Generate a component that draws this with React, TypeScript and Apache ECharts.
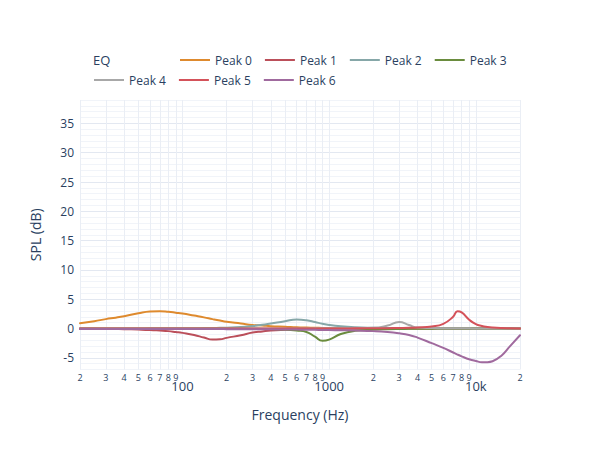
import React, { useEffect, useRef } from "react";
import * as echarts from "echarts";

// Frequencies (Hz) at which the curves were read
const FREQ = [20, 25, 30, 35, 40, 50, 60, 70, 80, 90, 100, 120, 140, 160, 180, 200, 250, 300, 350, 400, 500, 600, 700, 800, 900, 1000, 1200, 1500, 2000, 2500, 3000, 3500, 4000, 5000, 6000, 7000, 7500, 8000, 9000, 10000, 11000, 12000, 13000, 15000, 17000, 20000];

const PEAK_0 = [0.9, 1.25, 1.6, 1.85, 2.1, 2.6, 2.9, 2.95, 2.85, 2.7, 2.55, 2.2, 1.9, 1.6, 1.35, 1.15, 0.85, 0.6, 0.5, 0.4, 0.3, 0.2, 0.15, 0.12, 0.1, 0.08, 0.06, 0.04, 0.03, 0.02, 0.02, 0.01, 0.01, 0.01, 0, 0, 0, 0, 0, 0, 0, 0, 0, 0, 0, 0];
const PEAK_1 = [-0.05, -0.06, -0.08, -0.1, -0.12, -0.18, -0.25, -0.35, -0.45, -0.6, -0.75, -1.1, -1.55, -1.9, -1.85, -1.6, -1.15, -0.7, -0.5, -0.35, -0.22, -0.15, -0.1, -0.08, -0.06, -0.05, -0.04, -0.03, -0.02, -0.02, -0.01, -0.01, -0.01, 0, 0, 0, 0, 0, 0, 0, 0, 0, 0, 0, 0, 0];
const PEAK_2 = [0, 0, 0, 0, 0.01, 0.01, 0.02, 0.02, 0.03, 0.03, 0.04, 0.05, 0.07, 0.09, 0.11, 0.14, 0.25, 0.42, 0.62, 0.85, 1.25, 1.52, 1.4, 1.1, 0.8, 0.6, 0.38, 0.22, 0.12, 0.08, 0.05, 0.04, 0.03, 0.02, 0.01, 0, 0, 0, 0, 0, 0, 0, 0, 0, 0, 0];
const PEAK_3 = [0, 0, 0, 0, 0, 0, 0, 0, 0, 0, -0.01, -0.01, -0.01, -0.02, -0.02, -0.02, -0.04, -0.05, -0.07, -0.1, -0.18, -0.35, -0.6, -1.4, -2.1, -1.9, -0.95, -0.4, -0.2, -0.12, -0.08, -0.06, -0.05, -0.03, -0.02, -0.02, -0.01, -0.01, -0.01, 0, 0, 0, 0, 0, 0, 0];
const PEAK_4 = [0, 0, 0, 0, 0, 0, 0, 0, 0, 0, 0, 0, 0, 0, 0, 0, 0, 0, 0, 0, 0, 0.01, 0.01, 0.02, 0.02, 0.03, 0.04, 0.07, 0.12, 0.5, 1.12, 0.6, 0.15, 0.08, 0.05, 0.03, 0.03, 0.02, 0.02, 0.01, 0.01, 0, 0, 0, 0, 0];
const PEAK_5 = [0, 0, 0, 0, 0, 0, 0, 0, 0, 0, 0, 0, 0, 0, 0, 0, 0, 0, 0, 0, 0, 0, 0, 0, 0, 0, 0, 0.02, 0.04, 0.06, 0.09, 0.12, 0.17, 0.35, 0.8, 2.0, 2.95, 2.75, 1.5, 0.73, 0.42, 0.26, 0.17, 0.08, 0.04, 0.01];
const PEAK_6 = [-0.1, -0.1, -0.1, -0.1, -0.1, -0.1, -0.1, -0.1, -0.1, -0.1, -0.1, -0.1, -0.1, -0.1, -0.1, -0.11, -0.12, -0.13, -0.14, -0.15, -0.17, -0.19, -0.21, -0.23, -0.25, -0.27, -0.3, -0.35, -0.45, -0.6, -0.82, -1.1, -1.55, -2.5, -3.3, -4.1, -4.45, -4.75, -5.25, -5.55, -5.75, -5.75, -5.6, -4.6, -3.1, -1.15];

const SERIES_NAMES = ["Peak 0", "Peak 1", "Peak 2", "Peak 3", "Peak 4", "Peak 5", "Peak 6"];
const SERIES_VALUES = [PEAK_0, PEAK_1, PEAK_2, PEAK_3, PEAK_4, PEAK_5, PEAK_6];
const SERIES_COLORS = ["#de8a2e", "#bb4f5a", "#86a7a8", "#6a8c3e", "#a8a8a8", "#d4525a", "#a06a9e"];

// x-axis grid/tick positions and their labels
const X_TICKS = [20, 30, 40, 50, 60, 70, 80, 90, 100, 200, 300, 400, 500, 600, 700, 800, 900, 1000, 2000, 3000, 4000, 5000, 6000, 7000, 8000, 9000, 10000, 20000];
const X_TICK_LABELS = ["2", "3", "4", "5", "6", "7", "8", "9", "100", "2", "3", "4", "5", "6", "7", "8", "9", "1000", "2", "3", "4", "5", "6", "7", "8", "9", "10k", "2"];
const X_MAJOR = [100, 1000, 10000];

const Y_MIN = -7;
const Y_MAX = 39;

const TEXT = "#2a3f5f";
const FONT = "Open Sans";

export default function App() {
  const ref = useRef<HTMLDivElement>(null);
  useEffect(() => {
    const chart = echarts.init(ref.current!, null, { renderer: "svg" });
    const gridMarks = X_TICKS.map((f, i) => {
      const major = X_MAJOR.indexOf(f) >= 0;
      return {
        xAxis: f,
        lineStyle: { color: "#eaeef5", width: 1, type: "solid" },
        label: {
          show: true,
          position: "start",
          formatter: X_TICK_LABELS[i],
          fontSize: major ? 13 : 9,
          distance: major ? 10 : 3,
          color: TEXT,
          fontFamily: FONT,
        },
      };
    });
    const legendBase = {
      itemWidth: 30,
      itemHeight: 2,
      icon: "rect",
      itemGap: 13,
      selectedMode: false,
      padding: 0,
      textStyle: { fontSize: 12, color: TEXT, fontFamily: FONT },
    };
    const option: any = {
      animation: false,
      textStyle: { fontFamily: FONT },
      title: {
        text: "EQ",
        left: 93,
        top: 53,
        padding: 0,
        textStyle: { fontSize: 13, fontWeight: "normal", color: TEXT, fontFamily: FONT },
      },
      legend: [
        { ...legendBase, data: SERIES_NAMES.slice(0, 4), left: 180, top: 54 },
        { ...legendBase, data: SERIES_NAMES.slice(4), left: 94, top: 74 },
      ],
      grid: { left: 80, right: 80, top: 100, bottom: 80.5, containLabel: false },
      xAxis: {
        type: "log",
        logBase: 10,
        min: 20,
        max: 20000,
        axisLabel: { show: false },
        axisTick: { show: false },
        axisLine: { show: false },
        splitLine: { show: false },
        name: "Frequency (Hz)",
        nameLocation: "middle",
        nameGap: 38,
        nameTextStyle: { fontSize: 14, color: TEXT, fontFamily: FONT },
      },
      yAxis: {
        type: "value",
        min: Y_MIN,
        max: Y_MAX,
        interval: 1,
        axisLabel: {
          formatter: (v: number) => (v % 5 === 0 ? String(v) : ""),
          fontSize: 12,
          color: TEXT,
          margin: 6,
          fontFamily: FONT,
        },
        axisTick: { show: false },
        axisLine: { show: false },
        splitLine: {
          show: true,
          lineStyle: { color: ["#f1f4f9", "#f1f4f9", "#e3e8f1", "#f1f4f9", "#f1f4f9"], width: 1 },
        },
        name: "SPL (dB)",
        nameLocation: "middle",
        nameGap: 38,
        nameTextStyle: { fontSize: 14, color: TEXT, fontFamily: FONT },
      },
      series: [
        {
          name: "grid",
          type: "line",
          data: [],
          z: 1,
          silent: true,
          markLine: {
            silent: true,
            z: 1,
            symbol: ["none", "none"],
            animation: false,
            data: gridMarks,
          },
        },
        ...SERIES_NAMES.map((name, si) => ({
          name,
          type: "line",
          z: 10 + si,
          data: FREQ.map((f, i) => [f, SERIES_VALUES[si][i]]),
          showSymbol: false,
          symbol: "none",
          smooth: 0.5,
          color: SERIES_COLORS[si],
          lineStyle: { width: 2, color: SERIES_COLORS[si], cap: "round", join: "round" },
        })),
      ],
    };
    chart.setOption(option);
    return () => chart.dispose();
  }, []);
  return (
    <div style={{ position: "fixed", left: 0, top: 0, width: 600, height: 450, background: "#fff" }}>
      <div ref={ref} style={{ width: 600, height: 450 }} />
    </div>
  );
}
